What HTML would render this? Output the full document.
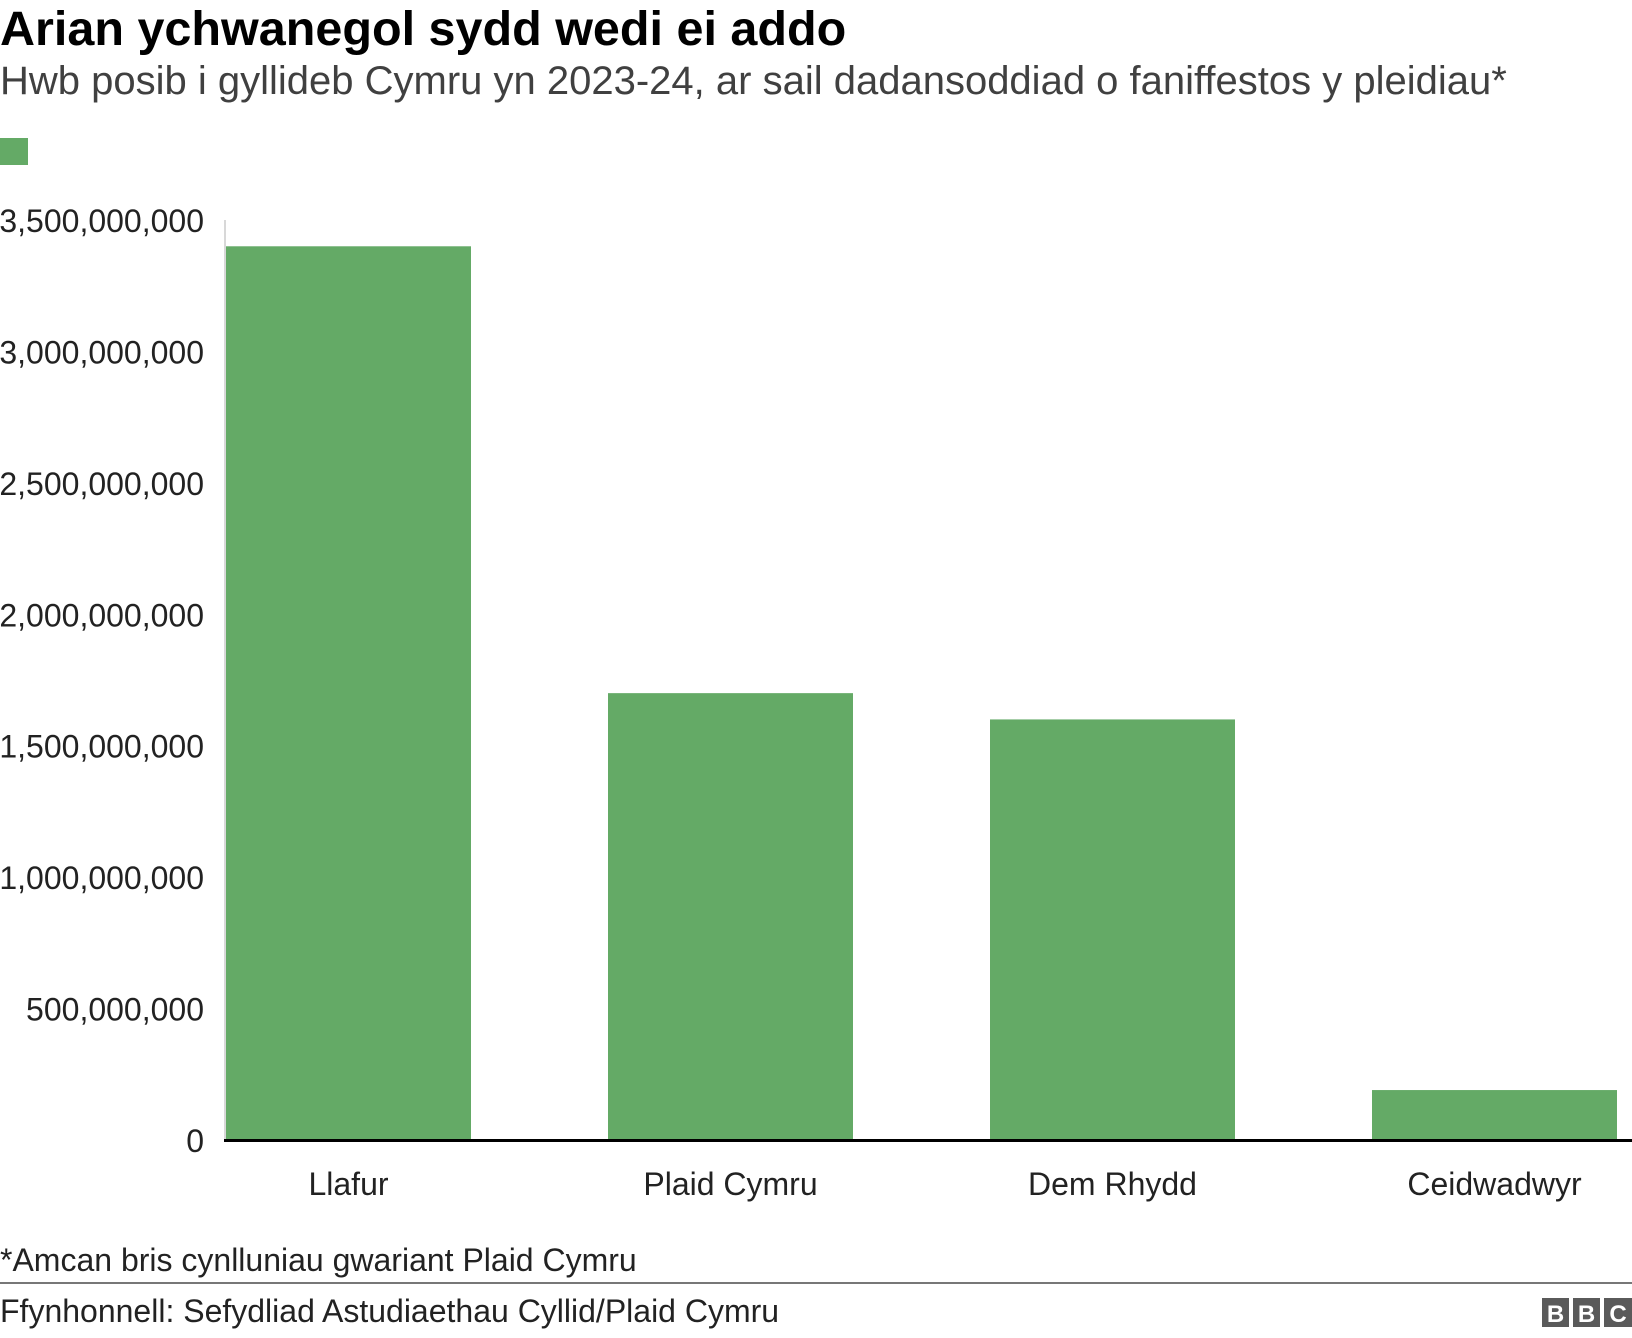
<!DOCTYPE html>
<html><head><meta charset="utf-8"><style>
body{margin:0;background:#fff;font-family:"Liberation Sans",Arial,sans-serif;}
#wrap{position:relative;width:1632px;height:1338px;overflow:hidden;}
</style></head><body>
<div id="wrap">
<svg id="chart" width="1632" height="1338">
<text x="0" y="45" font-size="48.5" font-weight="bold" fill="#000">Arian ychwanegol sydd wedi ei addo</text>
<text x="0" y="94" font-size="40" fill="#404040">Hwb posib i gyllideb Cymru yn 2023-24, ar sail dadansoddiad o faniffestos y pleidiau*</text>
<rect x="0" y="138" width="28" height="27" fill="#64aa66"/>
<line x1="225" y1="220" x2="225" y2="1140" stroke="#ccc" stroke-width="1.5"/>
<g id="yticks"></g>
<g id="bars"></g>
<line x1="224" y1="1140.5" x2="1632" y2="1140.5" stroke="#000" stroke-width="3"/>
<g id="xlabels"></g>
<text x="0" y="1271" font-size="32" fill="#222">*Amcan bris cynlluniau gwariant Plaid Cymru</text>
<line x1="0" y1="1283" x2="1632" y2="1283" stroke="#777" stroke-width="2"/>
<text x="0" y="1322" font-size="32" fill="#222">Ffynhonnell: Sefydliad Astudiaethau Cyllid/Plaid Cymru</text>
<g>
<rect x="1542" y="1298" width="27" height="29" fill="#5a5a5a"/><text x="1555.5" y="1322" font-size="24" font-weight="bold" fill="#fff" text-anchor="middle">B</text>
<rect x="1573" y="1298" width="27" height="29" fill="#5a5a5a"/><text x="1586.5" y="1322" font-size="24" font-weight="bold" fill="#fff" text-anchor="middle">B</text>
<rect x="1604" y="1298" width="28" height="29" fill="#5a5a5a"/><text x="1618" y="1322" font-size="24" font-weight="bold" fill="#fff" text-anchor="middle">C</text>
</g>
</svg>
</div>
<script>
const categories = ["Llafur", "Plaid Cymru", "Dem Rhydd", "Ceidwadwyr"];
const values = [3400000000, 1700000000, 1600000000, 190000000];
const tickValues = [0, 500000000, 1000000000, 1500000000, 2000000000, 2500000000, 3000000000, 3500000000];
const tickLabels = ["0", "500,000,000", "1,000,000,000", "1,500,000,000", "2,000,000,000", "2,500,000,000", "3,000,000,000", "3,500,000,000"];

const NS = "http://www.w3.org/2000/svg";
const y0 = 1140, yTop = 220, yMax = 3500000000;
function yScale(v){ return y0 - (v / yMax) * (y0 - yTop); }
const xStart = 226, step = 382, bw = 245;
function xScale(i){ return xStart + i * step; }

const yt = document.getElementById('yticks');
tickValues.forEach((v, i) => {
  const t = document.createElementNS(NS, 'text');
  t.setAttribute('x', 204);
  t.setAttribute('y', yScale(v) + 12);
  t.setAttribute('text-anchor', 'end');
  t.setAttribute('font-size', '32');
  t.setAttribute('fill', '#222');
  t.textContent = tickLabels[i];
  
  
  yt.appendChild(t);
});

const bars = document.getElementById('bars');
const xl = document.getElementById('xlabels');
categories.forEach((c, i) => {
  const r = document.createElementNS(NS, 'rect');
  const y = yScale(values[i]);
  r.setAttribute('x', xScale(i));
  r.setAttribute('y', y);
  r.setAttribute('width', bw);
  r.setAttribute('height', y0 - y);
  r.setAttribute('fill', '#64aa66');
  
  
  bars.appendChild(r);
  const t = document.createElementNS(NS, 'text');
  t.setAttribute('x', xScale(i) + bw / 2);
  t.setAttribute('y', 1195);
  t.setAttribute('text-anchor', 'middle');
  t.setAttribute('font-size', '32');
  t.setAttribute('fill', '#222');
  t.textContent = c;
  
  
  xl.appendChild(t);
});
</script>
</body></html>
